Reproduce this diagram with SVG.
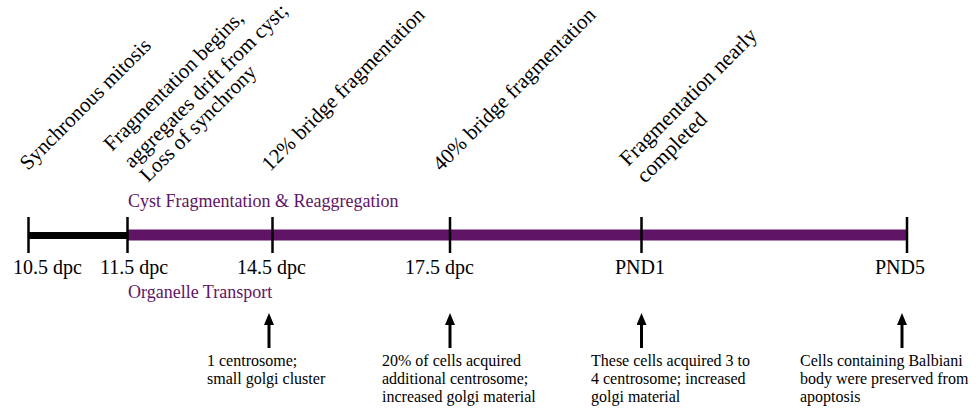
<svg xmlns="http://www.w3.org/2000/svg" width="979" height="413" viewBox="0 0 979 413">
<style>
text { font-family: "Liberation Serif", "Times New Roman", serif; fill: #000; }
.rot { font-size: 21px; }
.rotl { font-size: 21.5px; }
.tick-label { font-size: 20px; }
.phase { font-size: 18px; fill: #5f1466; }
.note { font-size: 16px; }
.tick { stroke: #000; stroke-width: 2.5; }
.arrow { stroke: #000; stroke-width: 3; fill: none; }
</style>
<defs>
<marker id="ah" viewBox="0 0 12 10" refX="5" refY="5" markerWidth="12" markerHeight="10" markerUnits="userSpaceOnUse" orient="auto">
<path d="M0,0 L12,5 L0,10 Z" fill="#000"/>
</marker>
</defs>
<rect width="979" height="413" fill="#fff"/>

<g id="timeline">
<rect x="28" y="232" width="100" height="7" fill="#000"/>
<rect x="127" y="229.5" width="780" height="11" fill="#5f1466"/>
</g>

<g id="t105">
<line class="tick" x1="28.5" y1="217" x2="28.5" y2="253"/>
<text class="tick-label" x="13" y="274">10.5 dpc</text>
<text class="rot" transform="translate(28,171) rotate(-45)">Synchronous mitosis</text>
</g>

<g id="t115">
<line class="tick" x1="127.5" y1="217" x2="127.5" y2="253"/>
<text class="tick-label" x="100" y="274">11.5 dpc</text>
<text class="rot" transform="translate(112,152) rotate(-45)">Fragmentation begins,</text>
<text class="rot" transform="translate(132,169) rotate(-45)">aggregates drift from cyst;</text>
<text class="rot" transform="translate(148,183) rotate(-45)">Loss of synchrony</text>
</g>

<g id="phases">
<text class="phase" x="128" y="207">Cyst Fragmentation &amp; Reaggregation</text>
<text class="phase" x="128" y="298">Organelle Transport</text>
</g>

<g id="t145">
<line class="tick" x1="272.5" y1="217" x2="272.5" y2="253"/>
<text class="tick-label" x="237" y="274">14.5 dpc</text>
<text class="rot" transform="translate(270,172) rotate(-45)">12% bridge fragmentation</text>
<text class="note" x="207" y="366">1 centrosome;</text>
<text class="note" x="207" y="384">small golgi cluster</text>
</g>

<g id="t175">
<line class="tick" x1="450" y1="217" x2="450" y2="253"/>
<text class="tick-label" x="405" y="274">17.5 dpc</text>
<text class="rot" transform="translate(441,172) rotate(-45)">40% bridge fragmentation</text>
<text class="note" x="382" y="366">20% of cells acquired</text>
<text class="note" x="382" y="384">additional centrosome;</text>
<text class="note" x="382" y="402">increased golgi material</text>
</g>

<g id="pnd1">
<line class="tick" x1="641.5" y1="217" x2="641.5" y2="253"/>
<text class="tick-label" x="615" y="274">PND1</text>
<text class="rotl" transform="translate(628,167) rotate(-45)">Fragmentation nearly</text>
<text class="rotl" transform="translate(645,184) rotate(-45)">completed</text>
<text class="note" x="591" y="366">These cells acquired 3 to</text>
<text class="note" x="591" y="384">4 centrosome; increased</text>
<text class="note" x="591" y="402">golgi material</text>
</g>

<g id="pnd5">
<line class="tick" x1="907" y1="217" x2="907" y2="253"/>
<text class="tick-label" x="875" y="274">PND5</text>
<text class="note" x="800" y="366">Cells containing Balbiani</text>
<text class="note" x="800" y="384">body were preserved from</text>
<text class="note" x="800" y="402">apoptosis</text>
</g>

<g id="connectors">
<line class="arrow" x1="269" y1="348" x2="269" y2="320" marker-end="url(#ah)"/>
<line class="arrow" x1="450" y1="348" x2="450" y2="320" marker-end="url(#ah)"/>
<line class="arrow" x1="641.5" y1="348" x2="641.5" y2="320" marker-end="url(#ah)"/>
<line class="arrow" x1="902" y1="348" x2="902" y2="320" marker-end="url(#ah)"/>
</g>
</svg>
